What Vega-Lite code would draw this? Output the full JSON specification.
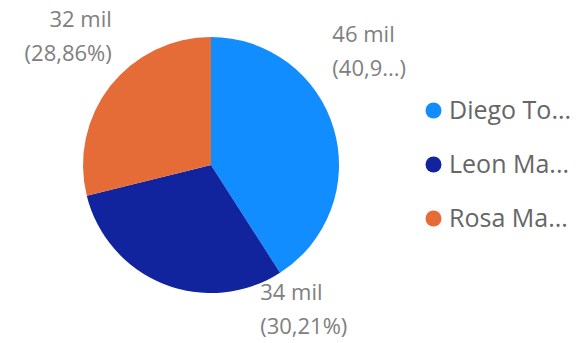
{
  "$schema": "https://vega.github.io/schema/vega-lite/v6.json",
  "width": 422,
  "height": 330,
  "autosize": {"type": "none"},
  "padding": {"left": 0, "top": 0, "right": 158, "bottom": 13},
  "background": "white",
  "config": {"view": {"stroke": null}, "font": "Open Sans"},
  "data": {
    "values": [
      {"name": "Diego Torres", "value": 46005},
      {"name": "Leon Martinez", "value": 33956},
      {"name": "Rosa Martinez", "value": 32439}
    ]
  },
  "transform": [
    {"joinaggregate": [{"op": "sum", "field": "value", "as": "total"}]},
    {"calculate": "format(datum.value / 1000, '.0f') + ' mil'", "as": "amt"},
    {"calculate": "replace(format(datum.value / datum.total, '.2%'), '.', ',')", "as": "pct"},
    {"calculate": "datum.amt + '\\n' + '(' + (datum.name === 'Diego Torres' ? slice(datum.pct, 0, 4) + '...' : datum.pct) + ')'", "as": "lbl"}
  ],
  "encoding": {
    "theta": {"field": "value", "type": "quantitative", "stack": true},
    "order": {"field": "name", "type": "nominal", "sort": "ascending"}
  },
  "layer": [
    {
      "mark": {"type": "arc", "outerRadius": 128},
      "encoding": {
        "color": {
          "field": "name",
          "type": "nominal",
          "scale": {"domain": ["Diego Torres", "Leon Martinez", "Rosa Martinez"], "range": ["#118DFF", "#12239E", "#E66C37"]},
          "legend": {
            "orient": "none",
            "legendX": 421,
            "legendY": 98,
            "title": null,
            "symbolType": "circle",
            "symbolSize": 256,
            "symbolStrokeWidth": 0,
            "labelFontSize": 25,
            "labelFont": "Open Sans",
            "labelColor": "#666666",
            "labelOffset": 3,
            "rowPadding": 28,
            "labelLimit": 300,
            "labelExpr": "slice(datum.label, 0, indexof(datum.label, ' ') + 3) + '...'"
          }
        }
      }
    },
    {
      "mark": {"type": "text", "radius": 140, "align": "left", "baseline": "middle", "dx": -13, "dy": -91, "fontSize": 22, "lineHeight": 34, "lineBreak": "\n", "color": "#808080"},
      "encoding": {
        "detail": {"field": "name", "type": "nominal"},
        "text": {"condition": {"test": "datum.name === 'Diego Torres'", "field": "lbl"}, "value": ""}
      }
    },
    {
      "mark": {"type": "text", "radius": 140, "align": "left", "baseline": "middle", "dx": 101, "dy": -2, "fontSize": 22, "lineHeight": 34, "lineBreak": "\n", "color": "#808080"},
      "encoding": {
        "detail": {"field": "name", "type": "nominal"},
        "text": {"condition": {"test": "datum.name === 'Leon Martinez'", "field": "lbl"}, "value": ""}
      }
    },
    {
      "mark": {"type": "text", "radius": 140, "align": "right", "baseline": "middle", "dx": 11, "dy": -59, "fontSize": 22, "lineHeight": 34, "lineBreak": "\n", "color": "#808080"},
      "encoding": {
        "detail": {"field": "name", "type": "nominal"},
        "text": {"condition": {"test": "datum.name === 'Rosa Martinez'", "field": "lbl"}, "value": ""}
      }
    }
  ]
}
